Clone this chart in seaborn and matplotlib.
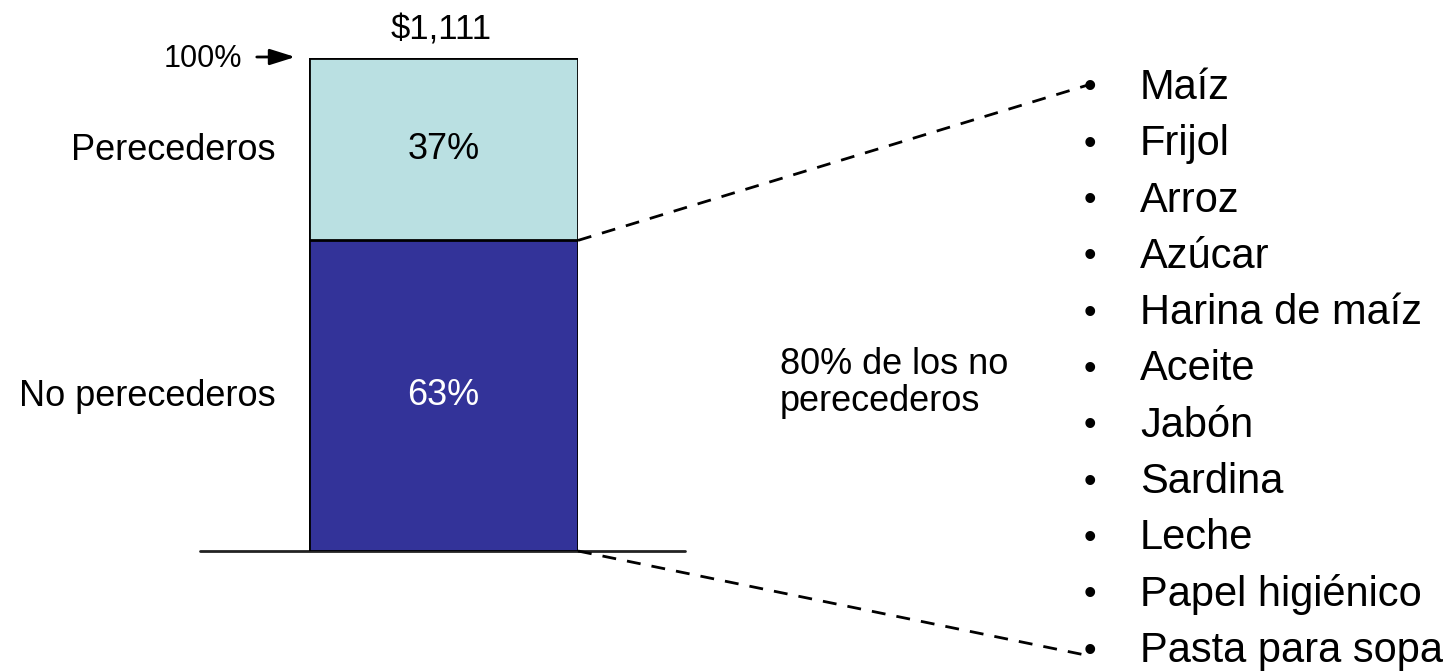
import matplotlib
matplotlib.use("Agg")
import matplotlib.pyplot as plt
import pandas as pd
import seaborn as sns

sns.set_theme(style="white")
plt.rcParams["font.family"] = ["Liberation Sans", "DejaVu Sans"]
plt.rcParams["text.color"] = "black"

# data
segments = ["No perecederos", "Perecederos"]
shares = [63, 37]
total_label = "$1,111"
items = ["Maíz", "Frijol", "Arroz", "Azúcar", "Harina de maíz", "Aceite",
         "Jabón", "Sardina", "Leche", "Papel higiénico", "Pasta para sopa"]
note = "80% de los no\nperecederos"

W, H = 1452, 671
fig = plt.figure(figsize=(W / 100, H / 100), dpi=100)

# bar axes placed at the bar's pixel box
bx0, bx1, by0, by1 = 309, 578, 58, 551
ax = fig.add_axes([bx0 / W, 1 - by1 / H, (bx1 - bx0) / W, (by1 - by0) / H])
df = pd.DataFrame({"bar": ["total"], "top": [sum(shares)], "bottom": [shares[0]]})
sns.barplot(data=df, x="bar", y="top", color="#bae0e2", width=1, saturation=1,
            edgecolor="black", linewidth=2, ax=ax)
sns.barplot(data=df, x="bar", y="bottom", color="#333399", width=1, saturation=1,
            edgecolor="black", linewidth=2, ax=ax)
ax.set_xlim(-0.5, 0.5)
ax.set_ylim(0, sum(shares))
ax.axis("off")

ax.text(0, shares[0] / 2, f"{shares[0]}%", ha="center", va="center",
        fontsize=26, color="white")
ax.text(0, shares[0] + shares[1] / 2, f"{shares[1]}%", ha="center", va="center",
        fontsize=26, color="black")

# overlay axes in pixel coordinates for annotations
ov = fig.add_axes([0, 0, 1, 1], zorder=-1)
ov.set_xlim(0, W)
ov.set_ylim(H, 0)
ov.axis("off")

split_y = by1 - (by1 - by0) * shares[0] / sum(shares)
ov.plot([200, 685], [by1, by1], color="#222222", lw=2)
ov.plot([bx1, 1088], [split_y, 85], color="black", lw=2, ls=(0, (5, 4)))
ov.plot([bx1, 1090], [by1, 656], color="black", lw=2, ls=(0, (5, 4)))

ov.text(441, 30, total_label, ha="center", va="center", fontsize=25)
ov.text(242, 59, "100%", ha="right", va="center", fontsize=22)
ov.annotate("", xy=(298, 57), xytext=(254, 57),
            arrowprops=dict(arrowstyle="-|>,head_length=0.7,head_width=0.22",
                            color="black", lw=2, mutation_scale=22))

ov.text(276, 151, segments[1], ha="right", va="center", fontsize=26)
ov.text(276, 397, segments[0], ha="right", va="center", fontsize=26)
ov.text(780, 383, note, ha="left", va="center", fontsize=26, linespacing=1.05)

y0, dy = 88, 56.3
for i, item in enumerate(items):
    y = y0 + i * dy
    ov.text(1090, y, "•", ha="center", va="center", fontsize=26)
    ov.text(1140, y, item, ha="left", va="center", fontsize=30)

fig.savefig("out.png", dpi=100, facecolor="white")
